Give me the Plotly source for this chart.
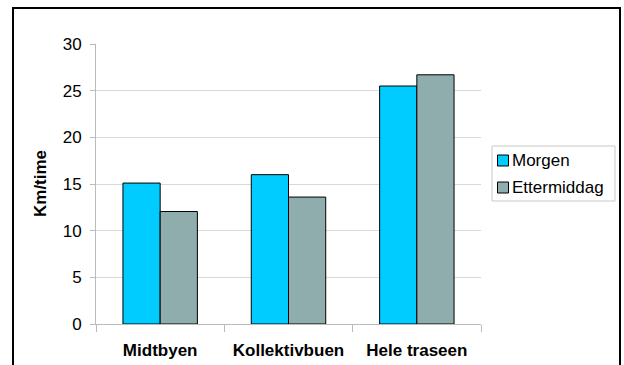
import plotly.graph_objects as go

categories = ["Midtbyen", "Kollektivbuen", "Hele traseen"]
morgen = [15.1, 16.0, 25.5]
ettermiddag = [12.05, 13.6, 26.7]
series_names = ["Morgen", "Ettermiddag"]
series_colors = ["#00CCFF", "#8FADAD"]
y_ticks = [0, 5, 10, 15, 20, 25, 30]

L, R, T, B = 96, 481, 44, 324
W, H = 624, 365
pw, ph = R - L, B - T

def px_x(x):
    return (x - L) / pw

def px_y(y):
    return (B - y) / ph

fig = go.Figure()
for name, vals, col in zip(series_names, [morgen, ettermiddag], series_colors):
    fig.add_bar(x=categories, y=vals, name=name,
                marker=dict(color=col, line=dict(color="#000000", width=1)))

font = "Arial, Liberation Sans, sans-serif"

shapes = [dict(type="rect", xref="paper", yref="paper",
               x0=px_x(13), x1=px_x(620), y0=px_y(372), y1=px_y(8),
               line=dict(color="black", width=2), layer="below"),
          dict(type="rect", xref="paper", yref="paper",
               x0=px_x(492), x1=px_x(615), y0=px_y(201), y1=px_y(146),
               line=dict(color="#C8C8C8", width=1), fillcolor="white", layer="below")]
annotations = [dict(text="<b>Km/time</b>", x=px_x(40), y=px_y(184), xref="paper", yref="paper",
                    textangle=-90, showarrow=False, font=dict(size=17),
                    xanchor="center", yanchor="middle")]
leg_y = [160.5, 187.5]
for name, col, yy in zip(series_names, series_colors, leg_y):
    shapes.append(dict(type="rect", xref="paper", yref="paper",
                       x0=px_x(497.5), x1=px_x(508.5), y0=px_y(yy + 5.5), y1=px_y(yy - 5.5),
                       line=dict(color="black", width=1), fillcolor=col))
    annotations.append(dict(text=name, x=px_x(510), y=px_y(yy), xref="paper", yref="paper",
                            showarrow=False, xanchor="left", yanchor="middle",
                            font=dict(size=17)))

fig.update_layout(
    width=W, height=H,
    margin=dict(l=L, r=W - R, t=T, b=H - B),
    paper_bgcolor="white", plot_bgcolor="white",
    barmode="group", bargap=0.42, bargroupgap=0,
    font=dict(family=font, size=17, color="black"),
    showlegend=False,
    xaxis=dict(type="category", tickson="boundaries", ticks="outside", ticklen=7,
               tickcolor="#BBBBBB", showline=True, linecolor="#BBBBBB",
               showgrid=False, tickfont=dict(size=17, family=font, weight="bold"),
               ticklabelstandoff=11, range=[-0.5, 2.5], automargin=False),
    yaxis=dict(range=[0, 30], tickvals=y_ticks, ticks="outside", ticklen=5,
               tickcolor="#BBBBBB", showline=True, linecolor="#BBBBBB",
               showgrid=True, gridcolor="#D9D9D9", zeroline=False,
               tickfont=dict(size=17), ticklabelstandoff=5, automargin=False),
    annotations=annotations,
    shapes=shapes,
)

fig.write_html("out.html")
